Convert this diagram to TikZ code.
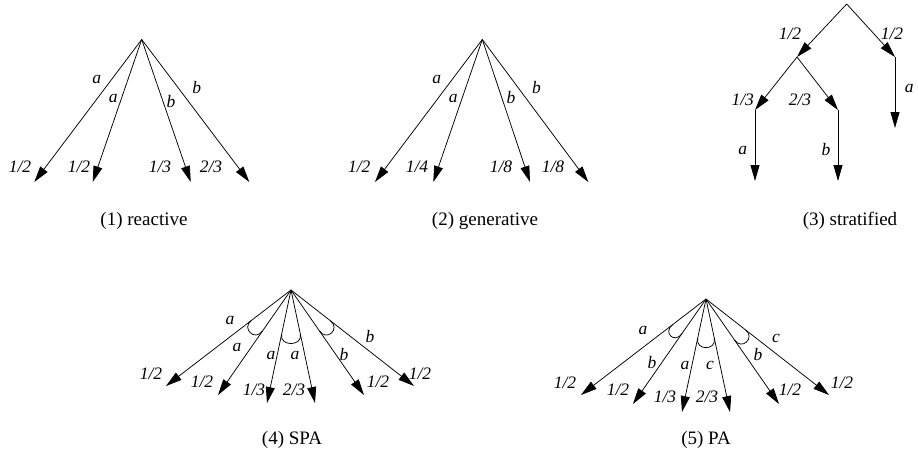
\documentclass[tikz,border=0pt]{standalone}
\usepackage{fontspec}
\setmainfont{Liberation Serif}
\usetikzlibrary{arrows.meta,calc}
\newcommand\grparc[5]{%
  \draw[grp] ($(#1)!#4pt!(#2)$) .. controls ($(#1)!#5pt!(#2)$) and ($(#1)!#5pt!(#3)$) .. ($(#1)!#4pt!(#3)$);}
\begin{document}
\begin{tikzpicture}[x=1pt,y=-1pt,
  edge/.style={line width=0.75pt,-{Triangle[length=16pt,width=9pt]}},
  grp/.style={line width=0.75pt},
  lbl/.style={font=\rmfamily\fontsize{17.5}{17.5}\selectfont\itshape, inner sep=0pt},
  captxt/.style={font=\rmfamily\fontsize{19}{19}\selectfont, inner sep=0pt}]
\useasboundingbox (0,0) rectangle (918,459);

% (1) reactive
\coordinate (A1) at (141.7,39.5);
\coordinate (t11) at (34.3,182);
\coordinate (t12) at (92.7,182);
\coordinate (t13) at (190.7,182);
\coordinate (t14) at (249.3,182);
\foreach \t in {t11,t12,t13,t14} \draw[edge] (A1) -- (\t);
\node[lbl] (l11) at (96.7,79.3) {a};
\node[lbl] (l12) at (113.3,98.3) {a};
\node[lbl] (l13) at (171,102) {b};
\node[lbl] (l14) at (196.7,87.3) {b};
\node[lbl] (p11) at (20,166.7) {1/2};
\node[lbl] (p12) at (79,166.7) {1/2};
\node[lbl] (p13) at (160,166.7) {1/3};
\node[lbl] (p14) at (211,166.7) {2/3};
\node[captxt] (c1) at (144,221) {(1) reactive};

% (2) generative
\coordinate (A2) at (482.3,39.5);
\coordinate (t21) at (375,182);
\coordinate (t22) at (433.3,182);
\coordinate (t23) at (530,182);
\coordinate (t24) at (588.3,182);
\foreach \t in {t21,t22,t23,t24} \draw[edge] (A2) -- (\t);
\node[lbl] (l21) at (436.7,79.3) {a};
\node[lbl] (l22) at (453.3,98.3) {a};
\node[lbl] (l23) at (511,98) {b};
\node[lbl] (l24) at (536.5,87.3) {b};
\node[lbl] (p21) at (359.3,166.7) {1/2};
\node[lbl] (p22) at (417,166.7) {1/4};
\node[lbl] (p23) at (501,166.7) {1/8};
\node[lbl] (p24) at (553,166.7) {1/8};
\node[captxt] (c2) at (485,221) {(2) generative};

% (3) stratified
\coordinate (s0) at (846.7,4);
\coordinate (s1) at (797,57);
\coordinate (s2) at (895,57);
\coordinate (s2b) at (895,128);
\coordinate (s11) at (755,110);
\coordinate (s12) at (838,110);
\coordinate (s11b) at (755,181);
\coordinate (s12b) at (838,181);
\draw[edge] (s0) -- (s1);
\draw[edge] (s0) -- (s2);
\draw[edge] (s2) -- (s2b);
\draw[edge] (s1) -- (s11);
\draw[edge] (s1) -- (s12);
\draw[edge] (s11) -- (s11b);
\draw[edge] (s12) -- (s12b);
\node[lbl] (q1) at (790,33.3) {1/2};
\node[lbl] (q2) at (892,33.3) {1/2};
\node[lbl] (q3) at (909.3,88.3) {a};
\node[lbl] (q4) at (742.7,99.3) {1/3};
\node[lbl] (q5) at (800,99.3) {2/3};
\node[lbl] (q6) at (742.7,150) {a};
\node[lbl] (q7) at (826,150) {b};
\node[captxt] (c3) at (850,221) {(3) stratified};

% (4) SPA
\coordinate (A4) at (291,290);
\coordinate (t41) at (166,386);
\coordinate (t42) at (218,395);
\coordinate (t43) at (267,403);
\coordinate (t44) at (315,403);
\coordinate (t45) at (364,395);
\coordinate (t46) at (414,386);
\foreach \t in {t41,t42,t43,t44,t45,t46} \draw[edge] (A4) -- (\t);
\grparc{A4}{t41}{t42}{50}{63}
\grparc{A4}{t43}{t44}{45}{58}
\grparc{A4}{t45}{t46}{50}{63}
\node[lbl] (l41) at (230,320) {a};
\node[lbl] (l42) at (237,347) {a};
\node[lbl] (l43) at (271,355) {a};
\node[lbl] (l44) at (295,355) {a};
\node[lbl] (l45) at (344,355) {b};
\node[lbl] (l46) at (370,337) {b};
\node[lbl] (p41) at (151,374) {1/2};
\node[lbl] (p42) at (202,382) {1/2};
\node[lbl] (p43) at (254,390) {1/3};
\node[lbl] (p44) at (294,390) {2/3};
\node[lbl] (p45) at (378,382) {1/2};
\node[lbl] (p46) at (420,374) {1/2};
\node[captxt] (c4) at (292,440) {(4) SPA};

% (5) PA
\coordinate (A5) at (706,299);
\coordinate (t51) at (581,395);
\coordinate (t52) at (633,404);
\coordinate (t53) at (682,412);
\coordinate (t54) at (730,412);
\coordinate (t55) at (779,404);
\coordinate (t56) at (829,395);
\foreach \t in {t51,t52,t53,t54,t55,t56} \draw[edge] (A5) -- (\t);
\grparc{A5}{t51}{t52}{42}{55}
\grparc{A5}{t53}{t54}{40}{53}
\grparc{A5}{t55}{t56}{50}{63}
\node[lbl] (l51) at (643,330) {a};
\node[lbl] (l52) at (652,363) {b};
\node[lbl] (l53) at (685,365) {a};
\node[lbl] (l54) at (710,365) {c};
\node[lbl] (l55) at (758,355) {b};
\node[lbl] (l56) at (776,338) {c};
\node[lbl] (p51) at (565,383) {1/2};
\node[lbl] (p52) at (618,390) {1/2};
\node[lbl] (p53) at (665,397) {1/3};
\node[lbl] (p54) at (707,397) {2/3};
\node[lbl] (p55) at (790,390) {1/2};
\node[lbl] (p56) at (842,383) {1/2};
\node[captxt] (c5) at (706,440) {(5) PA};
\end{tikzpicture}
\end{document}
